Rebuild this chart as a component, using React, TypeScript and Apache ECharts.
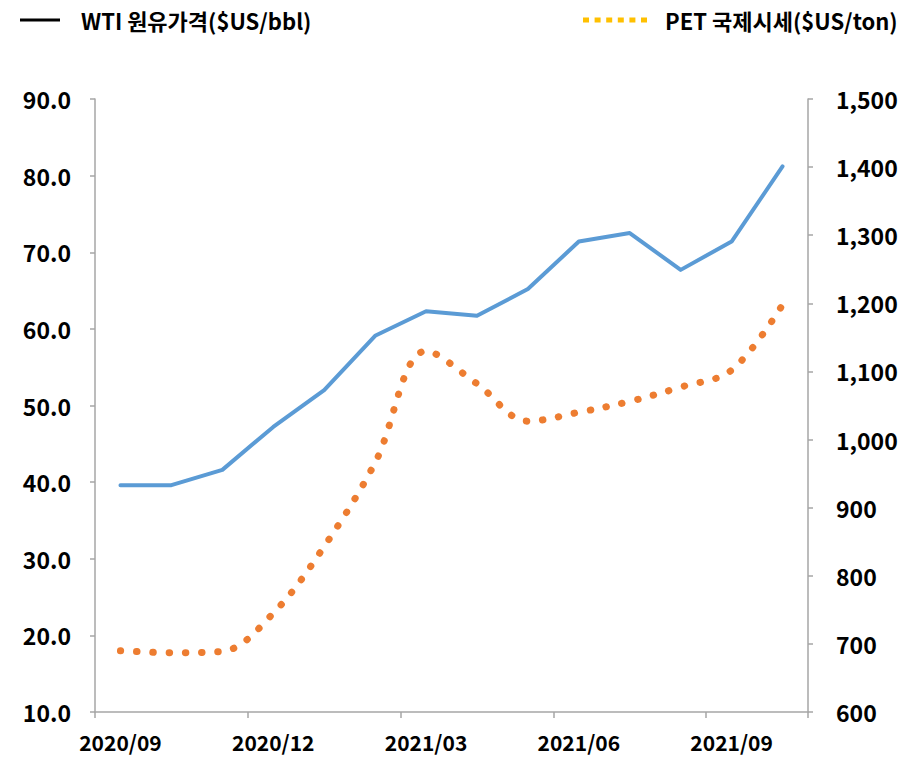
import React, { useEffect, useRef } from "react";
import * as echarts from "echarts";

const categories = [
  "2020/09", "2020/10", "2020/11", "2020/12", "2021/01", "2021/02", "2021/03",
  "2021/04", "2021/05", "2021/06", "2021/07", "2021/08", "2021/09", "2021/10",
];
const wtiName = "WTI 원유가격($US/bbl)";
const petName = "PET 국제시세($US/ton)";
const wtiValues = [39.6, 39.6, 41.6, 47.2, 52.0, 59.1, 62.3, 61.7, 65.2, 71.4, 72.5, 67.7, 71.4, 81.2];
const petValues = [690, 687, 689, 745, 843, 966, 1130, 1082, 1027, 1040, 1056, 1077, 1102, 1198];

const FONT = "'Noto Sans CJK KR', 'Noto Sans', sans-serif";

const solidIcon = "path://M0,0H40V3H0Z";
const dottedIcon =
  "path://M0,0h6v5h-6zM11.6,0h6v5h-6zM23.2,0h6v5h-6zM34.8,0h6v5h-6zM46.4,0h6v5h-6zM58,0h6v5h-6z";

export default function App() {
  const ref = useRef<HTMLDivElement>(null);
  useEffect(() => {
    if (!ref.current) return;
    const chart = echarts.init(ref.current, undefined, { renderer: "svg" });
    const axisLine = { show: true, lineStyle: { color: "#A6A6A6", width: 1.5 } };
    const labelStyle = { color: "#000", fontFamily: FONT, fontWeight: "bold" as const, fontSize: 23 };
    chart.setOption({
      animation: false,
      backgroundColor: "#fff",
      legend: [
        {
          left: 15,
          top: 4,
          itemWidth: 40,
          itemHeight: 3,
          textStyle: { color: "#000", fontFamily: FONT, fontWeight: "bold", fontSize: 22, padding: [0, 0, 0, 16] },
          data: [{ name: wtiName, icon: solidIcon, itemStyle: { color: "#000" }, lineStyle: { width: 0 } }],
        },
        {
          left: 578,
          top: 4,
          itemWidth: 64,
          itemHeight: 5,
          textStyle: { color: "#000", fontFamily: FONT, fontWeight: "bold", fontSize: 22, padding: [0, 0, 0, 13] },
          data: [{ name: petName, icon: dottedIcon, itemStyle: { color: "#FFC000" }, lineStyle: { width: 0 } }],
        },
      ],
      grid: { left: 95, right: 105, top: 99, bottom: 46, containLabel: false },
      xAxis: {
        type: "category",
        data: categories,
        boundaryGap: true,
        axisLine,
        axisTick: { show: true, interval: 2, alignWithLabel: false, length: 6, lineStyle: { color: "#A6A6A6", width: 1.5 } },
        axisLabel: { ...labelStyle, fontSize: 21, lineHeight: 21, interval: 2, margin: 19 },
        splitLine: { show: false },
      },
      yAxis: [
        {
          type: "value",
          min: 10,
          max: 90,
          interval: 10,
          position: "left",
          axisLine,
          axisTick: { show: true, length: 5, lineStyle: { color: "#A6A6A6", width: 1.5 } },
          axisLabel: { ...labelStyle, margin: 24, formatter: (v: number) => v.toFixed(1) },
          splitLine: { show: false },
        },
        {
          type: "value",
          min: 600,
          max: 1500,
          interval: 100,
          position: "right",
          axisLine,
          axisTick: { show: true, length: 5, lineStyle: { color: "#A6A6A6", width: 1.5 } },
          axisLabel: {
            ...labelStyle,
            margin: 28,
            formatter: (v: number) => v.toLocaleString("en-US"),
          },
          splitLine: { show: false },
        },
      ],
      series: [
        {
          name: wtiName,
          type: "line",
          yAxisIndex: 0,
          data: wtiValues,
          symbol: "none",
          lineStyle: { color: "#5B9BD5", width: 4, cap: "round", join: "round" },
          itemStyle: { color: "#5B9BD5" },
        },
        {
          name: petName,
          type: "line",
          yAxisIndex: 1,
          data: petValues,
          symbol: "none",
          smooth: 0.35,
          lineStyle: { color: "#ED7D31", width: 7, type: [0.5, 15.7], cap: "round" },
          itemStyle: { color: "#ED7D31" },
        },
      ],
    });
    return () => chart.dispose();
  }, []);
  return (
    <div
      ref={ref}
      style={{ position: "fixed", left: 0, top: 0, width: 913, height: 758 }}
    />
  );
}
